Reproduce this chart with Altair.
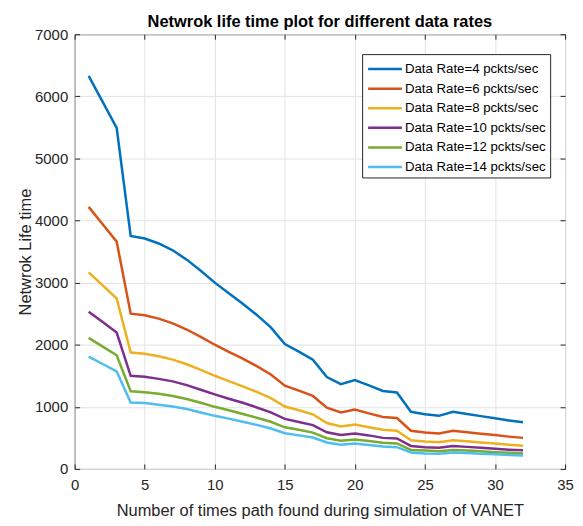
import altair as alt
import pandas as pd

x_vals = list(range(1, 33))

rate4 = [6330, 5910, 5490, 3750, 3710, 3630, 3520, 3370, 3190, 3000, 2830, 2660, 2480, 2280, 2010, 1890,
         1760, 1480, 1365, 1430, 1345, 1255, 1230, 920, 880, 855, 920, 885, 850, 815, 780, 750]
rate6 = [4220, 3940, 3660, 2500, 2475, 2420, 2345, 2245, 2125, 2000, 1885, 1775, 1655, 1520, 1340, 1260,
         1175, 985, 910, 955, 895, 835, 820, 615, 585, 570, 615, 590, 565, 545, 520, 500]
rate8 = [3165, 2955, 2745, 1875, 1855, 1815, 1760, 1685, 1595, 1500, 1415, 1330, 1240, 1140, 1005, 945,
         880, 740, 685, 715, 670, 630, 615, 460, 440, 430, 460, 445, 425, 410, 390, 375]
rate10 = [2530, 2365, 2195, 1500, 1485, 1450, 1410, 1350, 1275, 1200, 1130, 1065, 990, 910, 805, 755,
          705, 590, 545, 570, 540, 500, 490, 370, 350, 340, 370, 355, 340, 325, 310, 300]
rate12 = [2110, 1970, 1830, 1250, 1235, 1210, 1175, 1125, 1065, 1000, 945, 885, 825, 760, 670, 630,
          585, 495, 455, 475, 450, 420, 410, 305, 295, 285, 305, 295, 285, 270, 260, 250]
rate14 = [1810, 1690, 1570, 1070, 1060, 1035, 1005, 965, 910, 855, 810, 760, 710, 650, 575, 540,
          505, 425, 390, 410, 385, 360, 350, 265, 250, 245, 265, 255, 245, 235, 225, 215]

series_names = [
    "Data Rate=4 pckts/sec",
    "Data Rate=6 pckts/sec",
    "Data Rate=8 pckts/sec",
    "Data Rate=10 pckts/sec",
    "Data Rate=12 pckts/sec",
    "Data Rate=14 pckts/sec",
]
series_values = [rate4, rate6, rate8, rate10, rate12, rate14]
colors = ["#0072BD", "#D95319", "#EDB120", "#7E2F8E", "#77AC30", "#4DBEEE"]

x_ticks = [0, 5, 10, 15, 20, 25, 30, 35]
y_ticks = [0, 1000, 2000, 3000, 4000, 5000, 6000, 7000]

rows = []
for name, vals in zip(series_names, series_values):
    for xv, yv in zip(x_vals, vals):
        rows.append({"x": xv, "v": yv, "series": name})
df = pd.DataFrame(rows)

FONT = "Liberation Sans"
AX = "#262626"

xscale = alt.Scale(domain=[0, 35], nice=False, zero=False)
yscale = alt.Scale(domain=[0, 7000], nice=False)

lines = alt.Chart(df).mark_line(strokeWidth=2.5).encode(
    x=alt.X("x:Q", scale=xscale, axis=alt.Axis(
        orient="bottom", values=x_ticks, offset=-5, tickSize=5, labelPadding=9,
        format="d",
        title="Number of times path found during simulation of VANET",
        titlePadding=10, grid=True, domain=False, labelFlush=False)),
    y=alt.Y("v:Q", scale=yscale, axis=alt.Axis(
        orient="left", values=y_ticks, offset=-5, tickSize=5, labelPadding=7,
        format="d",
        title="Netwrok Life time", titlePadding=1, grid=True, domain=False,
        labelFlush=False)),
    color=alt.Color("series:N", scale=alt.Scale(domain=series_names, range=colors),
                    legend=alt.Legend(
                        title=None, orient="none", legendX=289, legendY=20,
                        symbolType="M-1.79,0H1.79", symbolSize=361, symbolStrokeWidth=2.5,
                        symbolOffset=8, labelOffset=9, rowPadding=1.7, padding=4,
                        labelFontSize=13.3, labelFont=FONT, labelColor="#000000",
                        fillColor="white", strokeColor=AX, labelLimit=300)),
    detail="series:N",
    order="x:Q",
)

box_ticks = alt.Chart(df).mark_line(opacity=0).encode(
    x=alt.X("x:Q", scale=xscale, axis=alt.Axis(
        orient="top", values=x_ticks, offset=-5, tickSize=5, labels=False,
        title=None, grid=False, domain=False)),
    y=alt.Y("v:Q", scale=yscale, axis=alt.Axis(
        orient="right", values=y_ticks, offset=-5, tickSize=5, labels=False,
        title=None, grid=False, domain=False)),
    detail="series:N",
)

chart = alt.layer(lines, box_ticks).resolve_axis(
    x="independent", y="independent"
).properties(
    width=493, height=437,
    autosize=alt.AutoSizeParams(type="none"),
    padding={"left": 67, "top": 25, "right": 10, "bottom": 55},
    title=alt.TitleParams(
        text="Netwrok life time plot for different data rates",
        fontSize=16.5, fontWeight="bold", font=FONT, color="#000000",
        anchor="middle", frame="group", offset=-3),
).configure_view(
    stroke=AX, strokeWidth=1
).configure_axis(
    labelFont=FONT, labelFontSize=15, labelColor=AX,
    titleFont=FONT, titleFontSize=16.5, titleColor=AX, titleFontWeight="normal",
    tickColor=AX, tickWidth=1, gridColor="#e3e3e3", gridWidth=1,
)

chart.save("out.html", embed_options={"renderer": "svg", "actions": False})
